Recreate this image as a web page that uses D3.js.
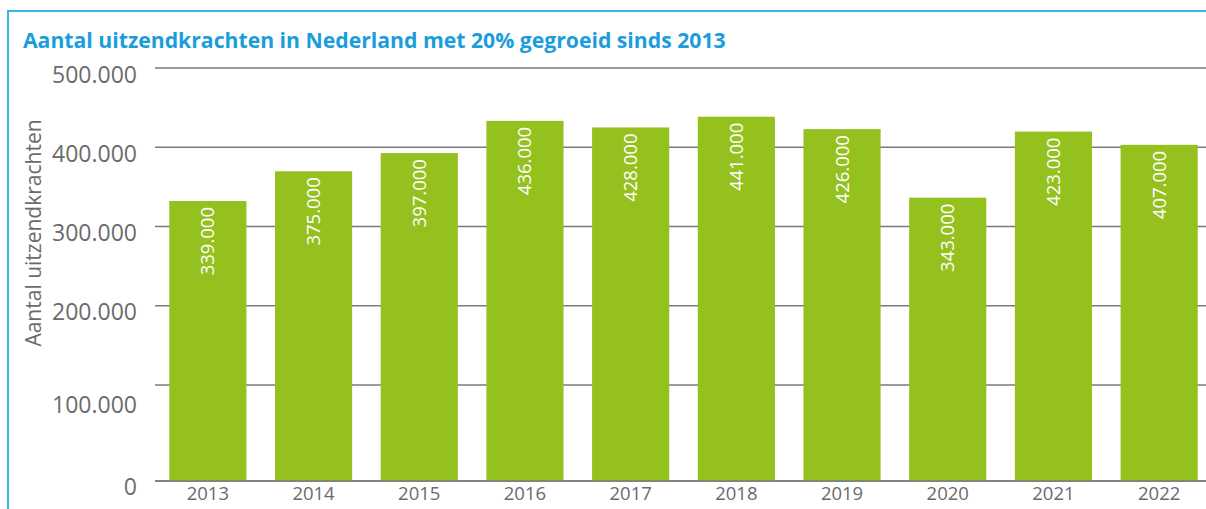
<!DOCTYPE html>
<html><head><meta charset="utf-8">
<script src="https://cdn.jsdelivr.net/npm/d3@7"></script>
<style>
html,body{margin:0;padding:0;background:#fff;}
svg{display:block;}
text{font-family:"Open Sans","Noto Sans",sans-serif;}
</style></head>
<body>
<svg id="chart" width="1206" height="509"></svg>
<script>
const title = "Aantal uitzendkrachten in Nederland met 20% gegroeid sinds 2013";
const yTitle = "Aantal uitzendkrachten";
const years = ["2013","2014","2015","2016","2017","2018","2019","2020","2021","2022"];
const values = [339000,375000,397000,436000,428000,441000,426000,343000,423000,407000];
const yTicks = [0,100000,200000,300000,400000,500000];

const nl = d3.formatLocale({decimal:",",thousands:".",grouping:[3],currency:["€",""]});
const fmt = nl.format(",");

const svg = d3.select("#chart");

// frame
svg.append("line").attr("x1",7).attr("x2",1206).attr("y1",11).attr("y2",11)
  .attr("stroke","#3ab3e5").attr("stroke-width",2);
svg.append("line").attr("x1",8).attr("x2",8).attr("y1",10).attr("y2",509)
  .attr("stroke","#3ab3e5").attr("stroke-width",2);

svg.append("text").attr("x",23).attr("y",48).text(title)
  .attr("fill","#1b9ddb").attr("font-size",21.2).attr("font-weight",700);

const x = d3.scaleBand().domain(years).range([155,1212]).paddingInner(0.27).paddingOuter(0.135);
const y = d3.scaleLinear().domain([0,500000]).range([481,68]);
// gridline / label placement as drawn in the reference
const yGrid = d3.scaleLinear().domain([0,100000,500000]).range([481,385,68]);
const yLab = d3.scaleLinear().domain([0,100000,200000,500000]).range([487,405,312,75]);

// gridlines
svg.append("g").selectAll("line").data(yTicks).join("line")
  .attr("x1",155).attr("x2",1212)
  .attr("y1",d=>yGrid(d)).attr("y2",d=>yGrid(d))
  .attr("stroke","#7a7a7a").attr("stroke-width",1.3);

// y labels
svg.append("g").selectAll("text").data(yTicks).join("text")
  .attr("x",137).attr("y",d=>yLab(d)).attr("dy","0.35em")
  .attr("text-anchor","end").attr("fill","#6b6b6b").attr("font-size",23)
  .text(d=>fmt(d));

// y title
svg.append("text").attr("transform","translate(41,233) rotate(-90)")
  .attr("text-anchor","middle").attr("fill","#6b6b6b").attr("font-size",21)
  .text(yTitle);

// bars
svg.append("g").selectAll("rect").data(values).join("rect")
  .attr("x",(d,i)=>x(years[i])).attr("width",x.bandwidth())
  .attr("y",d=>y(d)).attr("height",d=>y(0)-y(d))
  .attr("fill","#95c11f");

// redraw baseline on top
svg.append("line").attr("x1",155).attr("x2",1212).attr("y1",yGrid(0)).attr("y2",yGrid(0))
  .attr("stroke","#7a7a7a").attr("stroke-width",1.3);

// value labels
svg.append("g").selectAll("text").data(values).join("text")
  .attr("transform",(d,i)=>`translate(${x(years[i])+x.bandwidth()/2+6.5},${y(d)+6}) rotate(-90)`)
  .attr("text-anchor","end").attr("fill","#fff").attr("font-size",18.5)
  .text(d=>fmt(d));

// x labels
svg.append("g").selectAll("text").data(years).join("text")
  .attr("x",d=>x(d)+x.bandwidth()/2).attr("y",494).attr("dy","0.35em")
  .attr("text-anchor","middle").attr("fill","#6b6b6b").attr("font-size",18.5)
  .text(d=>d);
</script>
</body></html>
